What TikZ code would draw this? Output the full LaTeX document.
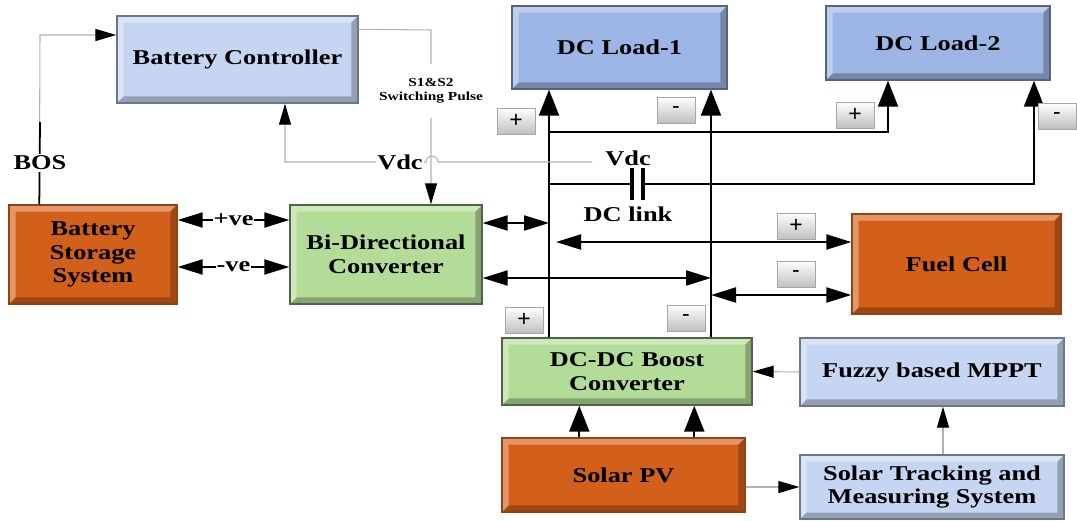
\documentclass[tikz,border=0pt]{standalone}
\usepackage{fontspec}
\setmainfont{Liberation Serif}[FakeStretch=1.25]
\newfontfamily\signfont{Liberation Sans}
\usetikzlibrary{arrows.meta}

\definecolor{ctrlblue}{HTML}{C6D6F2}
\definecolor{loadblue}{HTML}{9CB5E4}
\definecolor{convgreen}{HTML}{B3DC98}
\definecolor{srcorange}{HTML}{D2601A}

\tikzset{
  bevel/.style={path picture={
    \coordinate (bvnw) at (path picture bounding box.north west);
    \coordinate (bvse) at (path picture bounding box.south east);
    \fill[white, opacity=0.35] (bvnw) -- (bvnw -| bvse) -- ([shift={(-0.13cm,-0.13cm)}]bvnw -| bvse)
      -- ([shift={(0.13cm,-0.13cm)}]bvnw) -- ([shift={(0.13cm,0.13cm)}]bvnw |- bvse) -- (bvnw |- bvse) -- cycle;
    \fill[black, opacity=0.25] (bvse) -- (bvse |- bvnw) -- ([shift={(-0.13cm,-0.13cm)}]bvse |- bvnw)
      -- ([shift={(-0.13cm,0.13cm)}]bvse) -- ([shift={(0.13cm,0.13cm)}]bvse -| bvnw) -- (bvse -| bvnw) -- cycle;
  }}
}

\begin{document}
\begin{tikzpicture}[
  x=0.02cm, y=-0.02cm,
  box/.style={line width=0.8pt, align=center, font=\bfseries\fontsize{12}{13.5}\selectfont, bevel},
  bluebox/.style={box, fill=ctrlblue, draw=ctrlblue!55!black},
  loadbox/.style={box, fill=loadblue, draw=loadblue!55!black},
  greenbox/.style={box, fill=convgreen, draw=convgreen!45!black},
  orangebox/.style={box, fill=srcorange, draw=srcorange!70!black},
  sign/.style={draw=gray!70, top color=white, bottom color=gray!50, minimum width=0.76cm, minimum height=0.52cm, inner sep=0pt, font=\signfont\fontsize{13}{13}\selectfont},
  lbl/.style={fill=white, inner sep=1pt, font=\bfseries\fontsize{12}{13}\selectfont},
  power/.style={line width=1.2pt, -{Triangle[length=0.52cm, width=0.4cm]}},
  dbl/.style={line width=1.2pt, {Triangle[length=0.5cm, width=0.3cm]}-{Triangle[length=0.5cm, width=0.3cm]}},
  bus/.style={line width=1.2pt},
  sig/.style={draw=gray!60, line width=0.6pt, -{Triangle[length=0.42cm, width=0.24cm, color=black]}}
]
  \useasboundingbox (0,0) rectangle (1077,520);

  % blocks
  \node[bluebox, minimum width=4.82cm, minimum height=1.74cm] (ctrl) at (237.5,59.5) {Battery Controller};
  \node[orangebox, minimum width=3.36cm, minimum height=1.98cm] (bss) at (93,254.5) {Battery\\Storage\\System};
  \node[greenbox, minimum width=3.84cm, minimum height=1.98cm] (bdc) at (386,254.5) {Bi-Directional\\Converter};
  \node[loadbox, minimum width=4.3cm, minimum height=1.66cm] (load1) at (619.5,47.5) {DC Load-1};
  \node[loadbox, minimum width=4.48cm, minimum height=1.48cm] (load2) at (938,43) {DC Load-2};
  \node[orangebox, minimum width=4.18cm, minimum height=2cm] (fc) at (956.5,264) {Fuel Cell};
  \node[greenbox, minimum width=5cm, minimum height=1.34cm] (boost) at (627,371.5) {DC-DC Boost\\Converter};
  \node[bluebox, minimum width=5.28cm, minimum height=1.36cm] (mppt) at (932,372) {Fuzzy based MPPT};
  \node[orangebox, minimum width=4.86cm, minimum height=1.48cm] (pv) at (623.5,475) {Solar PV};
  \node[bluebox, minimum width=5.28cm, minimum height=1.28cm] (track) at (932,487) {Solar Tracking and\\Measuring System};

  % dc bus points
  \coordinate (pb) at (549,184);
  \coordinate (mb) at (711,184);
  \coordinate (capl) at (632,184);
  \coordinate (capr) at (643,184);
  \coordinate (l2p) at (888,132);
  \coordinate (l2m) at (1034,184);
  \coordinate (r1) at (549,223);
  \coordinate (r2) at (556,242);
  \coordinate (r3) at (711,278);
  \coordinate (r4) at (711,295);

  % dc bus
  \draw[power] (boost.north -| pb) -- (load1.south -| pb);
  \draw[power] (boost.north -| mb) -- (load1.south -| mb);
  \draw[power] (pb |- l2p) -- (l2p) -- (load2.south -| l2p);
  \draw[bus] (pb) -- (capl);
  \draw[power] (capr) -- (l2m) -- (load2.south -| l2m);
  \draw[line width=2pt] ([yshift=0.32cm]capl) -- ([yshift=-0.32cm]capl);
  \draw[line width=2pt] ([yshift=0.32cm]capr) -- ([yshift=-0.32cm]capr);
  \node[lbl] (vdc2) at (628,158) {Vdc};
  \node[lbl] (dclink) at (628,214) {DC link};

  \draw[dbl] (bdc.east |- r1) -- (r1);
  \draw[dbl] (r2) -- (fc.west |- r2);
  \draw[dbl] (bdc.east |- r3) -- (r3);
  \draw[dbl] (r4) -- (fc.west |- r4);

  % battery side
  \draw[dbl] ([yshift=0.69cm]bss.east) -- ([yshift=0.69cm]bdc.west) node[lbl, midway, inner sep=0.5pt] (pve) {+ve};
  \draw[dbl] ([yshift=-0.25cm]bss.east) -- ([yshift=-0.25cm]bdc.west) node[lbl, midway, inner sep=0.5pt] (nve) {-ve};

  % pv side
  \draw[power] ([xshift=1.56cm]pv.north west) -- ([xshift=1.56cm]pv.north west |- boost.south);
  \draw[power] ([xshift=3.86cm]pv.north west) -- ([xshift=3.86cm]pv.north west |- boost.south);
  \draw[sig] (mppt.west) -- (boost.east);
  \draw[sig] (pv.east |- track.west) -- (track.west);
  \draw[sig] ([xshift=0.22cm]track.north) -- ([xshift=0.22cm]mppt.south);

  % control signals
  \coordinate (sw) at (431,30);
  \coordinate (vdcin) at (592,162);
  \coordinate (vdcbend) at (285,162);
  \draw[sig] ([xshift=0.62cm]bss.north west) -- (40,35) -- (ctrl.west |- 40,35);
  \draw[line width=1pt] ([xshift=0.62cm]bss.north west) -- (40,122);
  \node[lbl] (bos) at (40,163) {BOS};
  \draw[sig] ([yshift=-0.28cm]ctrl.north east) -- (sw) -- (bdc.north -| sw);
  \node[lbl, font=\bfseries\fontsize{7}{8}\selectfont, align=center, minimum height=1.1cm] (swlbl) at (431,91) {S1\&S2\\Switching Pulse};
  \draw[sig] (vdcin) -- (438,162) arc[start angle=0, end angle=180, radius=0.12cm] -- (vdcbend) -- (ctrl.south -| vdcbend);
  \node[lbl] (vdc1) at (400,162) {Vdc};

  % polarity tags
  \node[sign] (p1) at (516,121) {+};
  \node[sign] (m1) at (676,110) {-};
  \node[sign] (p2) at (855,115) {+};
  \node[sign] (m2) at (1057,116) {-};
  \node[sign] (p3) at (796,226) {+};
  \node[sign] (m3) at (796,274) {-};
  \node[sign] (p4) at (524,320) {+};
  \node[sign] (m4) at (686,318) {-};
\end{tikzpicture}
\end{document}
